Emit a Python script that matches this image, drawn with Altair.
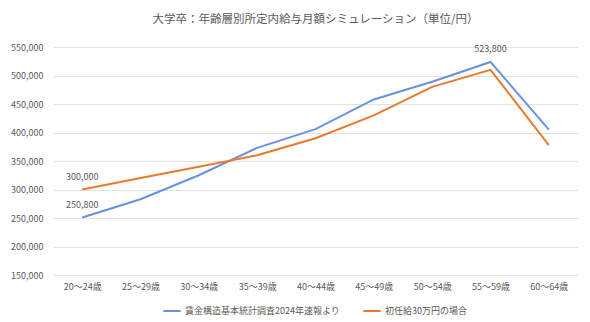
import altair as alt
import pandas as pd

categories = ["20～24歳", "25～29歳", "30～34歳", "35～39歳", "40～44歳",
              "45～49歳", "50～54歳", "55～59歳", "60～64歳"]
series_names = ["賃金構造基本統計調査2024年速報より", "初任給30万円の場合"]
blue_values = [250800, 283000, 325000, 373000, 406000, 458000, 489000, 523800, 405000]
orange_values = [300000, 320000, 340000, 360000, 390000, 430000, 480000, 510000, 378000]
blue_labels = ["250,800", "", "", "", "", "", "", "523,800", ""]
orange_labels = ["300,000", "", "", "", "", "", "", "", ""]
y_ticks = [150000, 200000, 250000, 300000, 350000, 400000, 450000, 500000, 550000]
colors = ["#6A91E0", "#E87A2E"]

rows = []
for c, v, l in zip(categories, blue_values, blue_labels):
    rows.append({"cat": c, "value": v, "series": series_names[0], "label": l})
for c, v, l in zip(categories, orange_values, orange_labels):
    rows.append({"cat": c, "value": v, "series": series_names[1], "label": l})
df = pd.DataFrame(rows)

FONT = "Noto Sans CJK JP"
TXT = "#595959"

x = alt.X("cat:N", sort=categories, title=None,
          scale=alt.Scale(type="point", padding=0.5),
          axis=alt.Axis(labelAngle=0, ticks=False, domain=False, grid=False,
                        labelFontSize=9, labelColor=TXT, labelFont=FONT, labelPadding=7))
y = alt.Y("value:Q", title=None,
          scale=alt.Scale(domain=[150000, 550000], nice=False, zero=False),
          axis=alt.Axis(values=y_ticks, format=",.0f", ticks=False, domain=False,
                        gridColor="#E3E3E3", gridWidth=1, labelFontSize=9,
                        labelColor=TXT, labelFont=FONT, labelPadding=10))
color = alt.Color("series:N", sort=series_names,
                  scale=alt.Scale(domain=series_names, range=colors),
                  legend=alt.Legend(title=None, orient="none", direction="horizontal",
                                    legendX=109, legendY=254, symbolType="stroke",
                                    symbolSize=300, symbolStrokeWidth=2,
                                    labelFontSize=9, labelColor=TXT, labelFont=FONT,
                                    columnPadding=19, labelOffset=3))

base = alt.Chart(df)
lines = base.mark_line(strokeWidth=2).encode(x=x, y=y, color=color)
labels = base.transform_filter(alt.datum.label != "").mark_text(
    dy=-13, fontSize=9, color=TXT, font=FONT
).encode(x=x, y=y, text="label:N")

chart = alt.layer(lines, labels).properties(
    width=525, height=228,
    title=alt.TitleParams("大学卒：年齢層別所定内給与月額シミュレーション（単位/円）",
                          fontSize=11.5, color=TXT, font=FONT, fontWeight="normal",
                          anchor="middle", offset=18),
    autosize=alt.AutoSizeParams(type="none"),
    padding={"left": 53, "top": 47, "right": 12, "bottom": 47},
).configure_view(stroke=None)

chart.save("out.html", embed_options={"renderer": "svg", "actions": False})
